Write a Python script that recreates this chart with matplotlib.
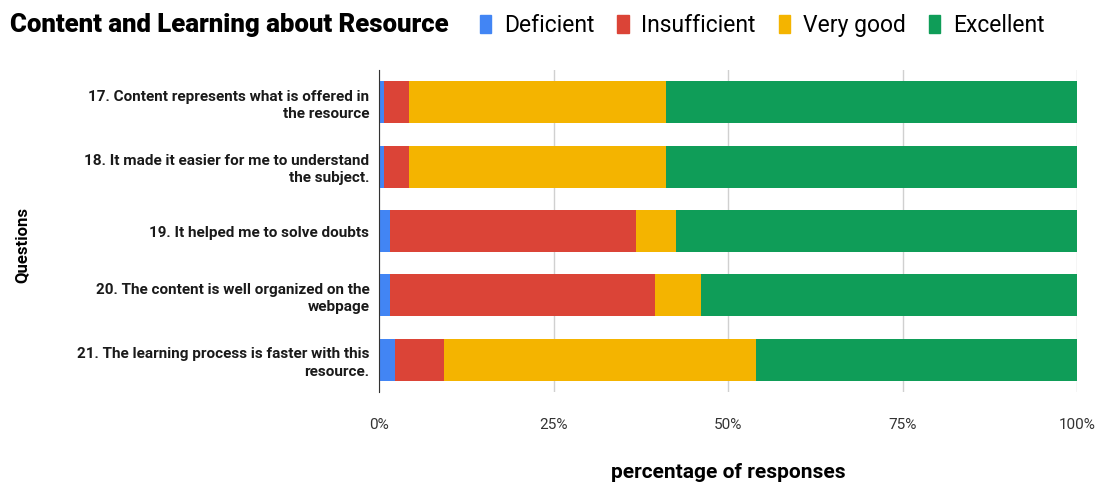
import matplotlib.pyplot as plt
from matplotlib.patches import Patch
from matplotlib.ticker import PercentFormatter

questions = ["17. Content represents what is offered in\nthe resource",
             "18. It made it easier for me to understand\nthe subject.",
             "19. It helped me to solve doubts",
             "20. The content is well organized on the\nwebpage",
             "21. The learning process is faster with this\nresource."]
deficient = [0.7, 0.7, 1.6, 1.6, 2.3]
insufficient = [3.6, 3.6, 35.2, 37.9, 7.0]
very_good = [36.8, 36.8, 5.8, 6.6, 44.7]
excellent = [58.9, 58.9, 57.4, 53.9, 46.0]

series = [("Deficient", deficient, "#4285f4"),
          ("Insufficient", insufficient, "#db4437"),
          ("Very good", very_good, "#f4b400"),
          ("Excellent", excellent, "#0f9d58")]

plt.rcParams['font.family'] = ["Roboto", "DejaVu Sans"]

fig = plt.figure(figsize=(10.99, 4.9), dpi=100)
ax = fig.add_axes([0.345, 0.2, 0.635, 0.657])

y = list(range(len(questions)))
left = [0] * len(questions)
for name, vals, col in series:
    ax.barh(y, vals, left=left, height=0.65, color=col, label=name, zorder=3)
    left = [a + b for a, b in zip(left, vals)]

ax.set_ylim(len(questions) - 0.5, -0.5)
ax.set_xlim(0, 100)
ax.set_yticks(y)
ax.set_yticklabels(questions, fontsize=11, fontweight='bold', color='#1a1a1a',
                   linespacing=1.3)
ax.set_xticks([0, 25, 50, 75, 100])
ax.xaxis.set_major_formatter(PercentFormatter(decimals=0))
ax.tick_params(axis='x', length=0, labelsize=11, colors='#333333', pad=19)
ax.tick_params(axis='y', length=0, pad=7)
ax.grid(axis='x', color='#d0d0d0', linewidth=1, zorder=0)
for s in ['top', 'right', 'bottom']:
    ax.spines[s].set_visible(False)
ax.spines['left'].set_color('#333333')
ax.spines['left'].set_zorder(4)

ax.set_xlabel("percentage of responses", fontsize=15, fontweight='bold', labelpad=22)
fig.text(0.02, 0.5, "Questions", rotation=90, fontsize=12, fontweight='bold',
         ha='center', va='center')
fig.text(0.009, 0.948, "Content and Learning about Resource", fontsize=18.5,
         fontweight='black', ha='left', va='center')

handles = [Patch(color=c, label=n) for n, v, c in series]
fig.legend(handles=handles, loc='center left', bbox_to_anchor=(0.418, 0.948),
           ncol=4, frameon=False, fontsize=16.5, handlelength=0.5, handleheight=0.85,
           handletextpad=0.55, columnspacing=1.0)

fig.savefig("out.png", dpi=100)
